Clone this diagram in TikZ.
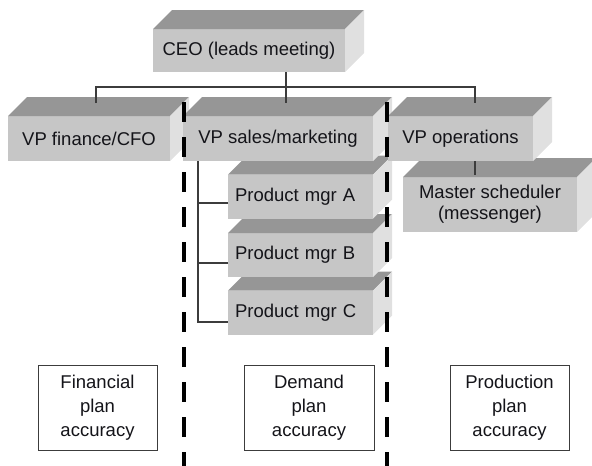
\documentclass[tikz,border=0pt]{standalone}
\usepackage{fontspec}
\setmainfont{Liberation Sans}
\usetikzlibrary{calc}

\definecolor{frontc}{RGB}{198,198,198}
\definecolor{topc}{RGB}{150,150,150}
\definecolor{sidec}{RGB}{224,224,224}
\definecolor{linkc}{RGB}{60,60,60}
\definecolor{inkc}{RGB}{20,20,25}

\tikzset{
  blk/.style={fill=frontc, inner sep=0pt, outer sep=0pt, align=center,
    text=inkc, font=\fontsize{18.5}{21}\selectfont},
  mgr/.style={blk, minimum width=145pt, minimum height=44pt,
    text width=131pt, align=left, inner xsep=7pt},
  link/.style={draw=linkc, line width=1.2pt},
  divider/.style={line width=4.5pt, dash pattern=on 20pt off 15pt},
  goal/.style={draw=linkc, line width=1pt, minimum height=85pt, inner sep=0pt,
    align=center, text=inkc, font=\fontsize{18.5}{24}\selectfont},
}

% top and right faces of a solid block
\newcommand\blockfaces[1]{%
  \fill[topc] (#1.north west) -- ++(19,-19) -- ($(#1.north east)+(19,-19)$)
    -- (#1.north east) -- cycle;
  \fill[sidec] (#1.north east) -- ++(19,-19) -- ($(#1.south east)+(19,-19)$)
    -- (#1.south east) -- cycle;}

\begin{document}
\begin{tikzpicture}[x=1pt, y=-1pt]
\useasboundingbox (0,0) rectangle (592,466);

% chief executive
\node[blk, minimum width=192pt, minimum height=43pt] (ceo) at (249,50.5) {CEO (leads meeting)};
\blockfaces{ceo}

% vice presidents and their reports, drawn back to front
\node[blk, minimum width=162pt, minimum height=45pt] (fin) at (89,138.5) {VP finance/CFO};
\blockfaces{fin}

\node[mgr] (pc) at (300.5,312.5) {Product mgr C};
\blockfaces{pc}
\node[mgr] (pb) at (300.5,255) {Product mgr B};
\blockfaces{pb}
\node[mgr] (pa) at (300.5,196.5) {Product mgr A};
\blockfaces{pa}

\node[blk, minimum width=190pt, minimum height=45pt] (sales) at (278,138.5) {VP sales/marketing};
\blockfaces{sales}

\node[blk, minimum width=174pt, minimum height=55pt] (msched) at (490,204.5) {Master scheduler\\(messenger)};
\blockfaces{msched}

\node[blk, minimum width=145pt, minimum height=45pt] (ops) at (460.5,138.5) {VP operations};
\blockfaces{ops}

% reporting lines
\coordinate (bus) at (286,87);
\coordinate (finT) at (96,103);
\coordinate (salesT) at (286,103);
\coordinate (opsT) at (475,103);
\coordinate (msT) at (475,175);
\coordinate (trunk) at (198,0);
\draw[link] (ceo.south -| bus) -- (salesT);
\draw[link] (finT) |- (bus) -| (opsT);
\draw[link] (ops.south -| opsT) -- (msT);
\draw[link] (sales.south -| trunk) |- ($(pc.west)+(0,9.5)$);
\draw[link] ($(pa.west)+(0,6.5)$) -| (sales.south -| trunk);
\draw[link] ($(pb.west)+(0,8)$) -| (sales.south -| trunk);

% planning goals
\node[goal, minimum width=119pt] (gfin) at (97.5,408) {Financial\\plan\\accuracy};
\node[goal, minimum width=130pt] (gdem) at (309,408) {Demand\\plan\\accuracy};
\node[goal, minimum width=119pt] (gprod) at (509.5,408) {Production\\plan\\accuracy};

% column dividers
\coordinate (d1top) at (184,102);
\coordinate (d1bot) at (184,470);
\coordinate (d2top) at (387,102);
\coordinate (d2bot) at (387,470);
\draw[divider] (d1top) -- (d1bot);
\draw[divider] (d2top) -- (d2bot);
\end{tikzpicture}
\end{document}
